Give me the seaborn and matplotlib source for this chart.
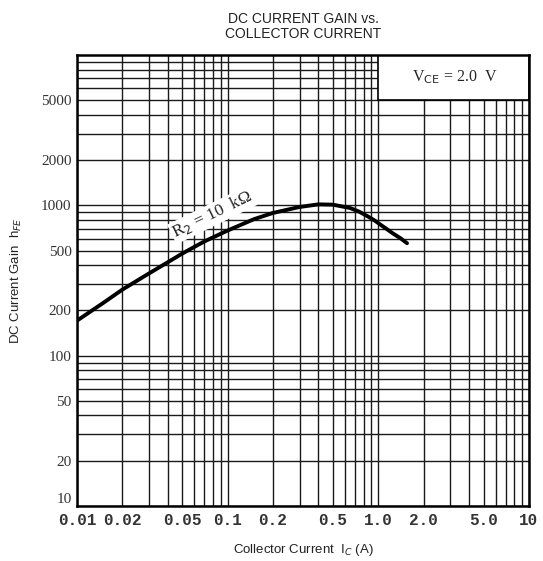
import numpy as np
import pandas as pd
import matplotlib
matplotlib.use("Agg")
import matplotlib.pyplot as plt
import seaborn as sns
from matplotlib.ticker import FixedLocator, LogLocator, NullFormatter

# curve (Ic in A, hFE)
collector_current = [0.01, 0.015, 0.02, 0.03, 0.04, 0.05, 0.07, 0.1, 0.15, 0.2, 0.3,
                     0.4, 0.5, 0.65, 0.75, 0.85, 0.95, 1.05, 1.15, 1.25, 1.4, 1.55]
dc_gain = [171, 225, 275, 352, 418, 478, 575, 680, 810, 890, 975,
           1015, 1010, 960, 905, 845, 790, 735, 690, 650, 605, 560]

x_ticks = [0.01, 0.02, 0.05, 0.1, 0.2, 0.5, 1.0, 2.0, 5.0, 10]
x_tick_labels = ["0.01", "0.02", "0.05", "0.1", "0.2", "0.5", "1.0", "2.0", "5.0", "10"]
y_ticks = [10, 20, 50, 100, 200, 500, 1000, 2000, 5000]
y_tick_labels = ["10", "20", "50", "100", "200", "500", "1000", "2000", "5000"]

df = pd.DataFrame({"Ic": collector_current, "hFE": dc_gain})

sns.set_style("white")
plt.rcParams["font.family"] = ["Liberation Sans", "DejaVu Sans"]

fig = plt.figure(figsize=(5.43, 5.61), dpi=100)
ax = fig.add_axes([77 / 543, 55 / 561, 452 / 543, 451 / 561])

ax.set_xscale("log")
ax.set_yscale("log")
ax.set_xlim(0.01, 10)
ax.set_ylim(10, 10000)

# grid on every 1..9 decade step
ax.xaxis.set_minor_locator(LogLocator(base=10, subs=np.arange(2, 10)))
ax.yaxis.set_minor_locator(LogLocator(base=10, subs=np.arange(2, 10)))
ax.xaxis.set_minor_formatter(NullFormatter())
ax.yaxis.set_minor_formatter(NullFormatter())
ax.grid(True, which="both", color="#1a1a1a", linewidth=1.0)
ax.set_axisbelow(True)

sns.lineplot(data=df, x="Ic", y="hFE", ax=ax, color="black", linewidth=2.8, zorder=3)

ax.xaxis.set_major_locator(FixedLocator(x_ticks))
ax.set_xticklabels(x_tick_labels, fontsize=11.5, family="Liberation Mono",
                   fontweight="bold", color="#333")
ax.yaxis.set_major_locator(FixedLocator(y_ticks))
ax.set_yticklabels(y_tick_labels, fontsize=11, family="Liberation Serif", color="#333")
ax.get_yticklabels()[0].set_va("bottom")
ax.tick_params(which="both", length=0)
ax.tick_params(axis="x", pad=5)
ax.tick_params(axis="y", pad=4)

for s in ax.spines.values():
    s.set_color("black")
    s.set_linewidth(1.8)

ax.set_xlabel("Collector Current  I$_C$ (A)", fontsize=9.5, labelpad=10, color="#222")
ax.set_ylabel("DC Current Gain  h$_{FE}$", fontsize=9.5, labelpad=12, color="#222")
ax.set_title("DC CURRENT GAIN vs.\nCOLLECTOR CURRENT", fontsize=10, color="#222",
             pad=12, linespacing=1.1)

# condition box in the upper right corner
ax.fill_between([1.0, 10], 5000, 10000, facecolor="white", edgecolor="black",
                linewidth=1.2, zorder=2)
ax.text(3.2, 7100, "V$_{\\mathrm{CE}}$ = 2.0  V", family="Liberation Serif",
        fontsize=11.5, ha="center", va="center", zorder=4)

ax.text(0.079, 865, "R$_2$ = 10  k\u03a9", family="Liberation Serif", fontsize=12.5,
        rotation=26, ha="center", va="center", zorder=4,
        bbox=dict(facecolor="white", edgecolor="none", pad=1))

fig.savefig("out.png", dpi=100)
